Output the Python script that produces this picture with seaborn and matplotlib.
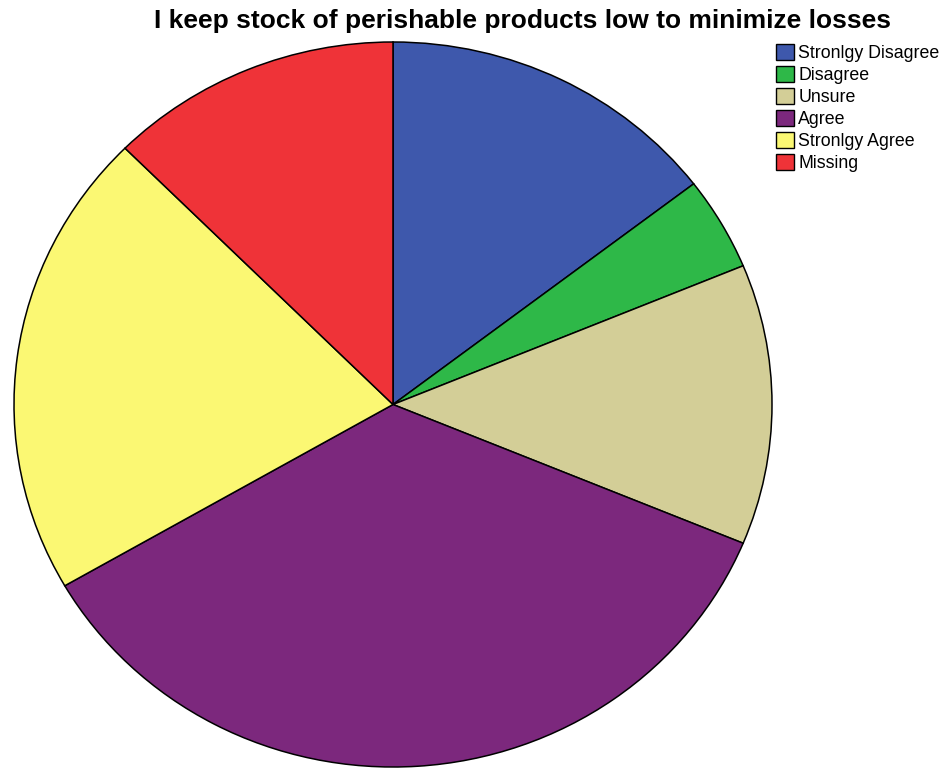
import matplotlib
matplotlib.use("Agg")
import matplotlib.pyplot as plt
import seaborn as sns

# Survey responses (counts)
categories = ["Stronlgy Disagree", "Disagree", "Unsure", "Agree", "Stronlgy Agree", "Missing"]
counts = [7, 2, 6, 17, 10, 6]
colors = ["#3E58AC", "#2EB848", "#D3CE97", "#7C287D", "#FBF873", "#EF3338"]
title = "I keep stock of perishable products low to minimize losses"

sns.set_theme(style="white")
plt.rcParams["font.family"] = ["Liberation Sans", "DejaVu Sans"]

W, H = 943, 768
fig = plt.figure(figsize=(W / 100, H / 100), dpi=100)
fig.patch.set_facecolor("white")

# Pie placed in pixel box: x 14..772, y 42..767 (from top)
left, right, top, bottom = 14, 772, 42, 767
ax = fig.add_axes([left / W, 1 - bottom / H, (right - left) / W, (bottom - top) / H])
wedges, _ = ax.pie(
    counts,
    colors=colors,
    startangle=90,
    counterclock=False,
    radius=1.0,
    wedgeprops=dict(edgecolor="black", linewidth=1.1),
)
ax.set_aspect("auto")
ax.set_xlim(-1, 1)
ax.set_ylim(-1, 1)
ax.axis("off")

fig.text(522 / W, 1 - 21 / H, title, ha="center", va="center",
         fontsize=19, fontweight="bold", color="black")

leg = fig.legend(
    wedges, categories,
    loc="upper left",
    bbox_to_anchor=(776 / W, 1 - 44 / H),
    frameon=False,
    fontsize=12.8,
    labelcolor="black",
    handlelength=1.0,
    handleheight=1.0,
    handletextpad=0.25,
    labelspacing=0.22,
    borderpad=0,
    borderaxespad=0,
)
for p in leg.get_patches():
    p.set_edgecolor("black")
    p.set_linewidth(1.0)

fig.savefig("out.png", dpi=100, facecolor="white")
